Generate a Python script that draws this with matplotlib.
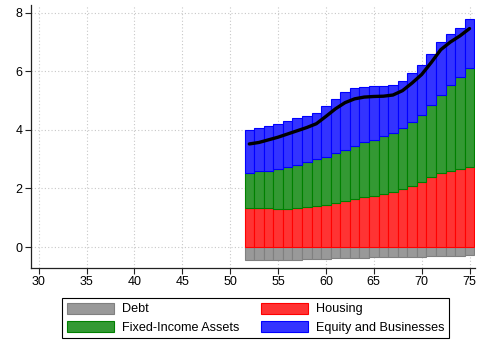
import matplotlib.pyplot as plt
from matplotlib.patches import Patch

plt.rcParams['font.family'] = ['Liberation Sans', 'DejaVu Sans']

# portfolio composition by age (stacked, debt below zero)
ages = list(range(52, 76))
debt = [-0.46, -0.46, -0.46, -0.45, -0.44, -0.43, -0.42, -0.41, -0.40, -0.39, -0.38, -0.37,
        -0.36, -0.35, -0.35, -0.35, -0.35, -0.34, -0.33, -0.32, -0.31, -0.30, -0.29, -0.28]
housing = [1.34, 1.33, 1.32, 1.31, 1.31, 1.32, 1.36, 1.39, 1.45, 1.52, 1.58, 1.65,
           1.71, 1.75, 1.81, 1.89, 1.97, 2.10, 2.22, 2.38, 2.53, 2.60, 2.66, 2.74]
fixed_income = [1.20, 1.25, 1.29, 1.36, 1.43, 1.49, 1.53, 1.60, 1.64, 1.68, 1.75, 1.81,
                1.86, 1.92, 1.97, 2.02, 2.09, 2.17, 2.29, 2.47, 2.67, 2.93, 3.13, 3.37]
equity = [1.44, 1.47, 1.53, 1.54, 1.57, 1.58, 1.59, 1.60, 1.73, 1.86, 1.96, 1.96,
          1.91, 1.83, 1.71, 1.62, 1.62, 1.68, 1.70, 1.74, 1.80, 1.75, 1.69, 1.67]
net_worth = [3.52, 3.57, 3.66, 3.75, 3.86, 3.97, 4.08, 4.21, 4.46, 4.72, 4.93, 5.06,
             5.12, 5.14, 5.15, 5.19, 5.34, 5.60, 5.89, 6.30, 6.74, 7.00, 7.21, 7.46]

labels = ['Debt', 'Housing', 'Fixed-Income Assets', 'Equity and Businesses']
fills = ['#999999', '#ff3333', '#339933', '#3333ff']
edges = ['#808080', '#ff0000', '#008000', '#0000ff']

fig = plt.figure(figsize=(4.84, 3.41), dpi=100)
ax = fig.add_axes([0.064, 0.214, 0.917, 0.771])

ax.bar(ages, debt, width=1.0, color=fills[0], edgecolor=edges[0], linewidth=0.8, zorder=2)
ax.bar(ages, housing, width=1.0, color=fills[1], edgecolor=edges[1], linewidth=0.8, zorder=2)
base = housing
ax.bar(ages, fixed_income, bottom=base, width=1.0, color=fills[2], edgecolor=edges[2],
       linewidth=0.8, zorder=2)
base = [h + f for h, f in zip(housing, fixed_income)]
ax.bar(ages, equity, bottom=base, width=1.0, color=fills[3], edgecolor=edges[3],
       linewidth=0.8, zorder=2)

ax.plot(ages, net_worth, color='black', linewidth=2.4, solid_capstyle='round',
        solid_joinstyle='round', zorder=3)

ax.set_xlim(29.2, 75.55)
ax.set_ylim(-0.717, 8.26)
ax.set_xticks(range(30, 80, 5))
ax.set_yticks(range(0, 10, 2))
ax.grid(True, color='#c8c8c8', linestyle=(0, (1, 2)), linewidth=0.8, zorder=0)
ax.set_axisbelow(True)
for side in ['top', 'right']:
    ax.spines[side].set_visible(False)
for side in ['left', 'bottom']:
    ax.spines[side].set_color('#222222')
    ax.spines[side].set_linewidth(0.9)
ax.tick_params(labelsize=9, length=4, width=0.8, color='#222222', pad=2)

# legend reads row-wise, matplotlib fills columns first
order = [0, 2, 1, 3]
handles = [Patch(facecolor=fills[i], edgecolor=edges[i], linewidth=0.8) for i in order]
leg = fig.legend(handles, [labels[i] for i in order], loc='lower center',
                 bbox_to_anchor=(0.528, 0.009), ncol=2, fontsize=9.1, frameon=True,
                 fancybox=False, edgecolor='black', framealpha=1,
                 handlelength=3.7, handleheight=0.95, handletextpad=0.63, labelspacing=0.42,
                 columnspacing=1.74, borderpad=0.35, borderaxespad=0)
leg.get_frame().set_linewidth(0.8)

fig.savefig('out.png', dpi=100)
